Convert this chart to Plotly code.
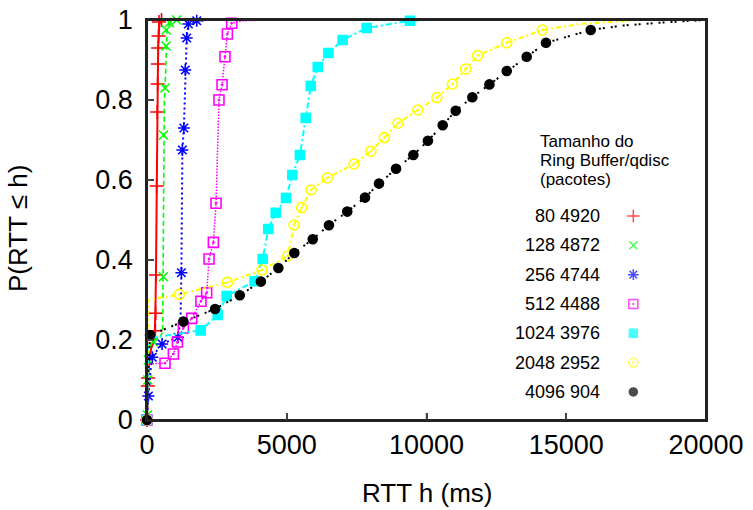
import plotly.graph_objects as go

# ---------------- data ----------------
series_names = ["80 4920", "128 4872", "256 4744", "512 4488", "1024 3976", "2048 2952", "4096 904"]

# line vertices (RTT ms, cumulative probability)
red_x = [0, 15, 30, 45, 80, 150, 270, 285, 300, 320, 340, 360, 380, 392, 402, 415, 440, 520, 650]
red_p = [0, 0.05, 0.085, 0.11, 0.15, 0.18, 0.2, 0.225, 0.27, 0.36, 0.585, 0.77, 0.84, 0.89, 0.93, 0.96, 0.99, 1.0, 1.0]
red_mx = [0, 30, 40, 300, 310, 320, 345, 365, 380, 390, 400, 410, 430, 520]
red_mp = [0, 0.085, 0.105, 0.223, 0.267, 0.3625, 0.585, 0.77, 0.84, 0.89, 0.93, 0.96, 0.995, 1.0]

green_x = [0, 10, 25, 40, 80, 200, 450, 560, 575, 585, 595, 620, 645, 680, 720, 800, 1060, 1300]
green_p = [0, 0.01, 0.1, 0.15, 0.18, 0.195, 0.205, 0.22, 0.355, 0.5, 0.71, 0.8, 0.83, 0.935, 0.975, 0.99, 1.0, 1.0]
green_mx = [0, 15, 30, 50, 225, 585, 590, 645, 680, 685, 800, 1060]
green_mp = [0, 0.0125, 0.1, 0.15, 0.196, 0.358, 0.7125, 0.83, 0.935, 0.975, 0.993, 1.0]

blue_x = [0, 50, 170, 540, 1110, 1200, 1230, 1250, 1265, 1320, 1370, 1420, 1480, 1780, 2200, 3300]
blue_p = [0, 0.06, 0.157, 0.19, 0.207, 0.25, 0.368, 0.55, 0.675, 0.73, 0.875, 0.955, 0.99, 0.998, 1.0, 1.0]
blue_mx = [0, 50, 190, 540, 1110, 1230, 1265, 1320, 1370, 1420, 1480, 1780]
blue_mp = [0, 0.06, 0.157, 0.19, 0.207, 0.368, 0.675, 0.73, 0.875, 0.955, 0.99, 0.998]

mag_x = [0, 30, 50, 645, 945, 1090, 1300, 1600, 1930, 2135, 2220, 2375, 2470, 2575, 2685, 2790, 2875, 3030, 3400, 4400]
mag_p = [0, 0.1, 0.14, 0.142, 0.165, 0.195, 0.23, 0.254, 0.297, 0.318, 0.4025, 0.444, 0.542, 0.80, 0.838, 0.908, 0.965, 0.992, 0.998, 1.0]
mag_mx = [0, 645, 945, 1090, 1300, 1600, 1930, 2135, 2220, 2375, 2470, 2575, 2685, 2790, 2875, 3030]
mag_mp = [0, 0.142, 0.165, 0.195, 0.23, 0.254, 0.297, 0.318, 0.4025, 0.444, 0.542, 0.80, 0.838, 0.908, 0.965, 0.992]

cyan_x = [0, 20, 40, 100, 1920, 2530, 2850, 3850, 4140, 4340, 4605, 4975, 5200, 5470, 5680, 5860, 6110, 6490, 7000, 7860, 9410, 10000]
cyan_p = [0, 0.1, 0.2, 0.205, 0.224, 0.2625, 0.31, 0.347, 0.4025, 0.4775, 0.518, 0.555, 0.6125, 0.6625, 0.755, 0.835, 0.8825, 0.9175, 0.95, 0.98, 0.998, 1.0]
cyan_mx = [0, 1920, 2530, 2850, 3850, 4140, 4340, 4605, 4975, 5200, 5470, 5680, 5860, 6110, 6490, 7000, 7860, 9410]
cyan_mp = [0, 0.224, 0.2625, 0.31, 0.347, 0.4025, 0.4775, 0.518, 0.555, 0.6125, 0.6625, 0.755, 0.835, 0.8825, 0.9175, 0.95, 0.98, 0.998]

yel_x = [0, 20, 35, 1155, 2875, 4115, 5035, 5260, 5535, 5870, 6450, 7405, 8010, 8490, 8980, 9690, 10370, 10925, 11400, 11830, 12870, 14145, 15500, 17600, 20000]
yel_p = [0, 0.15, 0.30, 0.314, 0.344, 0.375, 0.41, 0.4875, 0.531, 0.575, 0.605, 0.64, 0.672, 0.706, 0.742, 0.775, 0.806, 0.84, 0.8775, 0.911, 0.943, 0.975, 0.99, 1.0, 1.0]
yel_mx = [0, 1155, 2875, 4115, 5035, 5260, 5535, 5870, 6450, 7405, 8010, 8490, 8980, 9690, 10370, 10925, 11400, 11830, 12870, 14145]
yel_mp = [0, 0.314, 0.344, 0.375, 0.41, 0.4875, 0.531, 0.575, 0.605, 0.64, 0.672, 0.706, 0.742, 0.775, 0.806, 0.84, 0.8775, 0.911, 0.943, 0.975]

blk_x = [0, 30, 107, 1300, 2435, 3320, 4075, 4700, 5270, 5930, 6510, 7165, 7800, 8300, 8910, 9530, 10050, 10580, 11045, 11640, 12250, 12870, 13585, 14275, 15875, 17000, 18500, 20000]
blk_p = [0, 0.1, 0.2125, 0.246, 0.2775, 0.312, 0.346, 0.38, 0.4175, 0.452, 0.487, 0.521, 0.556, 0.591, 0.628, 0.6625, 0.698, 0.737, 0.773, 0.807, 0.839, 0.8725, 0.908, 0.943, 0.975, 0.986, 0.994, 1.0]
blk_mx = [0, 107, 1300, 2435, 3320, 4075, 4700, 5270, 5930, 6510, 7165, 7800, 8300, 8910, 9530, 10050, 10580, 11045, 11640, 12250, 12870, 13585, 14275, 15875]
blk_mp = [0, 0.2125, 0.246, 0.2775, 0.312, 0.346, 0.38, 0.4175, 0.452, 0.487, 0.521, 0.556, 0.591, 0.628, 0.6625, 0.698, 0.737, 0.773, 0.807, 0.839, 0.8725, 0.908, 0.943, 0.975]

x_ticks = [0, 5000, 10000, 15000, 20000]
y_ticks = [0, 0.2, 0.4, 0.6, 0.8, 1]
legend_title = ["Tamanho do", "Ring Buffer/qdisc", "(pacotes)"]
x_title = "RTT h (ms)"
y_title = "P(RTT ≤ h)"

# ---------------- styles ----------------
styles = [
    dict(color="#ff0000", dash="solid", width=2, symbol="cross-thin-open", size=10),
    dict(color="#00ff00", dash="5px,3px", width=1.6, symbol="x-thin-open", size=9),
    dict(color="#0000ff", dash="2px,3px", width=2, symbol="asterisk-open", size=10),
    dict(color="#ff00ff", dash="1.5px,1.5px", width=1.5, symbol="square-open-dot", size=10),
    dict(color="#00ffff", dash="6px,3px,2px,3px", width=2, symbol="square", size=9),
    dict(color="#ffff00", dash="5px,3px,2px,3px", width=2, symbol="circle-open-dot", size=10),
    dict(color="#000000", dash="2px,2px,2px,6px", width=2, symbol="circle", size=9),
]
lines = [(red_x, red_p), (green_x, green_p), (blue_x, blue_p), (mag_x, mag_p),
         (cyan_x, cyan_p), (yel_x, yel_p), (blk_x, blk_p)]
marks = [(red_mx, red_mp), (green_mx, green_mp), (blue_mx, blue_mp), (mag_mx, mag_mp),
         (cyan_mx, cyan_mp), (yel_mx, yel_mp), (blk_mx, blk_mp)]

FONT = "Liberation Sans, Arial, sans-serif"
fig = go.Figure()
for (lx, lp), (mx, mp), st, name in zip(lines, marks, styles, series_names):
    fig.add_trace(go.Scatter(x=lx, y=lp, mode="lines", showlegend=False,
                             line=dict(color=st["color"], dash=st["dash"], width=st["width"]),
                             hoverinfo="skip"))
    fig.add_trace(go.Scatter(x=mx, y=mp, mode="markers", name=name, showlegend=False,
                             cliponaxis=False,
                             marker=dict(symbol=st["symbol"], size=st["size"], color=st["color"],
                                         line=dict(color=st["color"], width=1.6))))

# custom key (text right-aligned, symbol on the right)
key_x_text = 0.8145
key_x_mark = 0.870
key_y0 = 0.51
key_step = 0.0733
key_y = [key_y0 - i * key_step for i in range(len(series_names))]
fig.add_trace(go.Scatter(x=[key_x_mark] * len(series_names), y=key_y, mode="markers",
                         xaxis="x2", yaxis="y2", showlegend=False, hoverinfo="skip",
                         marker=dict(symbol=[s["symbol"] for s in styles],
                                     size=[s["size"] - 1 for s in styles],
                                     color=[s["color"] for s in styles],
                                     line=dict(color=[s["color"] for s in styles], width=1.5))))
annotations = []
for name, yy in zip(series_names, key_y):
    annotations.append(dict(x=key_x_text, y=yy, xref="paper", yref="paper", text=name,
                            showarrow=False, xanchor="right", yanchor="middle",
                            font=dict(family=FONT, size=18, color="#000")))
for i, t in enumerate(legend_title):
    annotations.append(dict(x=0.700, y=0.696 - i * 0.047, xref="paper", yref="paper", text=t,
                            showarrow=False, xanchor="left", yanchor="middle",
                            font=dict(family=FONT, size=17, color="#000")))
# axis titles
annotations.append(dict(x=0.5, y=-0.1825, xref="paper", yref="paper", text=x_title,
                        showarrow=False, xanchor="center", yanchor="middle",
                        font=dict(family=FONT, size=26, color="#000")))
annotations.append(dict(x=-0.2308, y=0.48, xref="paper", yref="paper", text=y_title,
                        showarrow=False, xanchor="center", yanchor="middle", textangle=-90,
                        font=dict(family=FONT, size=26, color="#000")))

# frame and inward tick marks drawn as shapes (tick positions via the axis scales)
shapes = [dict(type="rect", xref="paper", yref="paper", x0=0, x1=1, y0=0, y1=1,
               line=dict(color="#222", width=2), layer="above")]
for v in x_ticks[1:-1]:
    shapes.append(dict(type="line", xref="x", yref="paper", x0=v, x1=v, y0=0, y1=0.0175,
                       line=dict(color="#444", width=1.5), layer="above"))
for v in y_ticks[1:-1]:
    shapes.append(dict(type="line", xref="paper", yref="y", x0=0, x1=0.0125, y0=v, y1=v,
                       line=dict(color="#444", width=1.5), layer="above"))

fig.update_layout(
    width=753, height=510,
    margin=dict(l=147, r=47, t=20, b=90),
    paper_bgcolor="white", plot_bgcolor="white",
    font=dict(family=FONT, size=27, color="#000"),
    annotations=annotations,
    shapes=shapes,
    xaxis=dict(range=[0, 20000], tickvals=x_ticks, ticktext=[str(v) for v in x_ticks],
               automargin=False,
               ticks="inside", ticklen=7, tickwidth=1.5, tickcolor="#444",
               showline=True, mirror=True, linecolor="#222", linewidth=2,
               showgrid=False, zeroline=False),
    yaxis=dict(range=[0, 1], tickvals=y_ticks,
               ticktext=[("%g" % v) + "\u2005" for v in y_ticks],
               automargin=False,
               ticks="inside", ticklen=7, tickwidth=1.5, tickcolor="#444",
               showline=True, mirror=True, linecolor="#222", linewidth=2,
               showgrid=False, zeroline=False),
    xaxis2=dict(range=[0, 1], overlaying="x", visible=False, fixedrange=True),
    yaxis2=dict(range=[0, 1], overlaying="y", visible=False, fixedrange=True),
)

fig.write_html("out.html", config={"displayModeBar": False},
               post_script="document.body.style.margin='0px';")
